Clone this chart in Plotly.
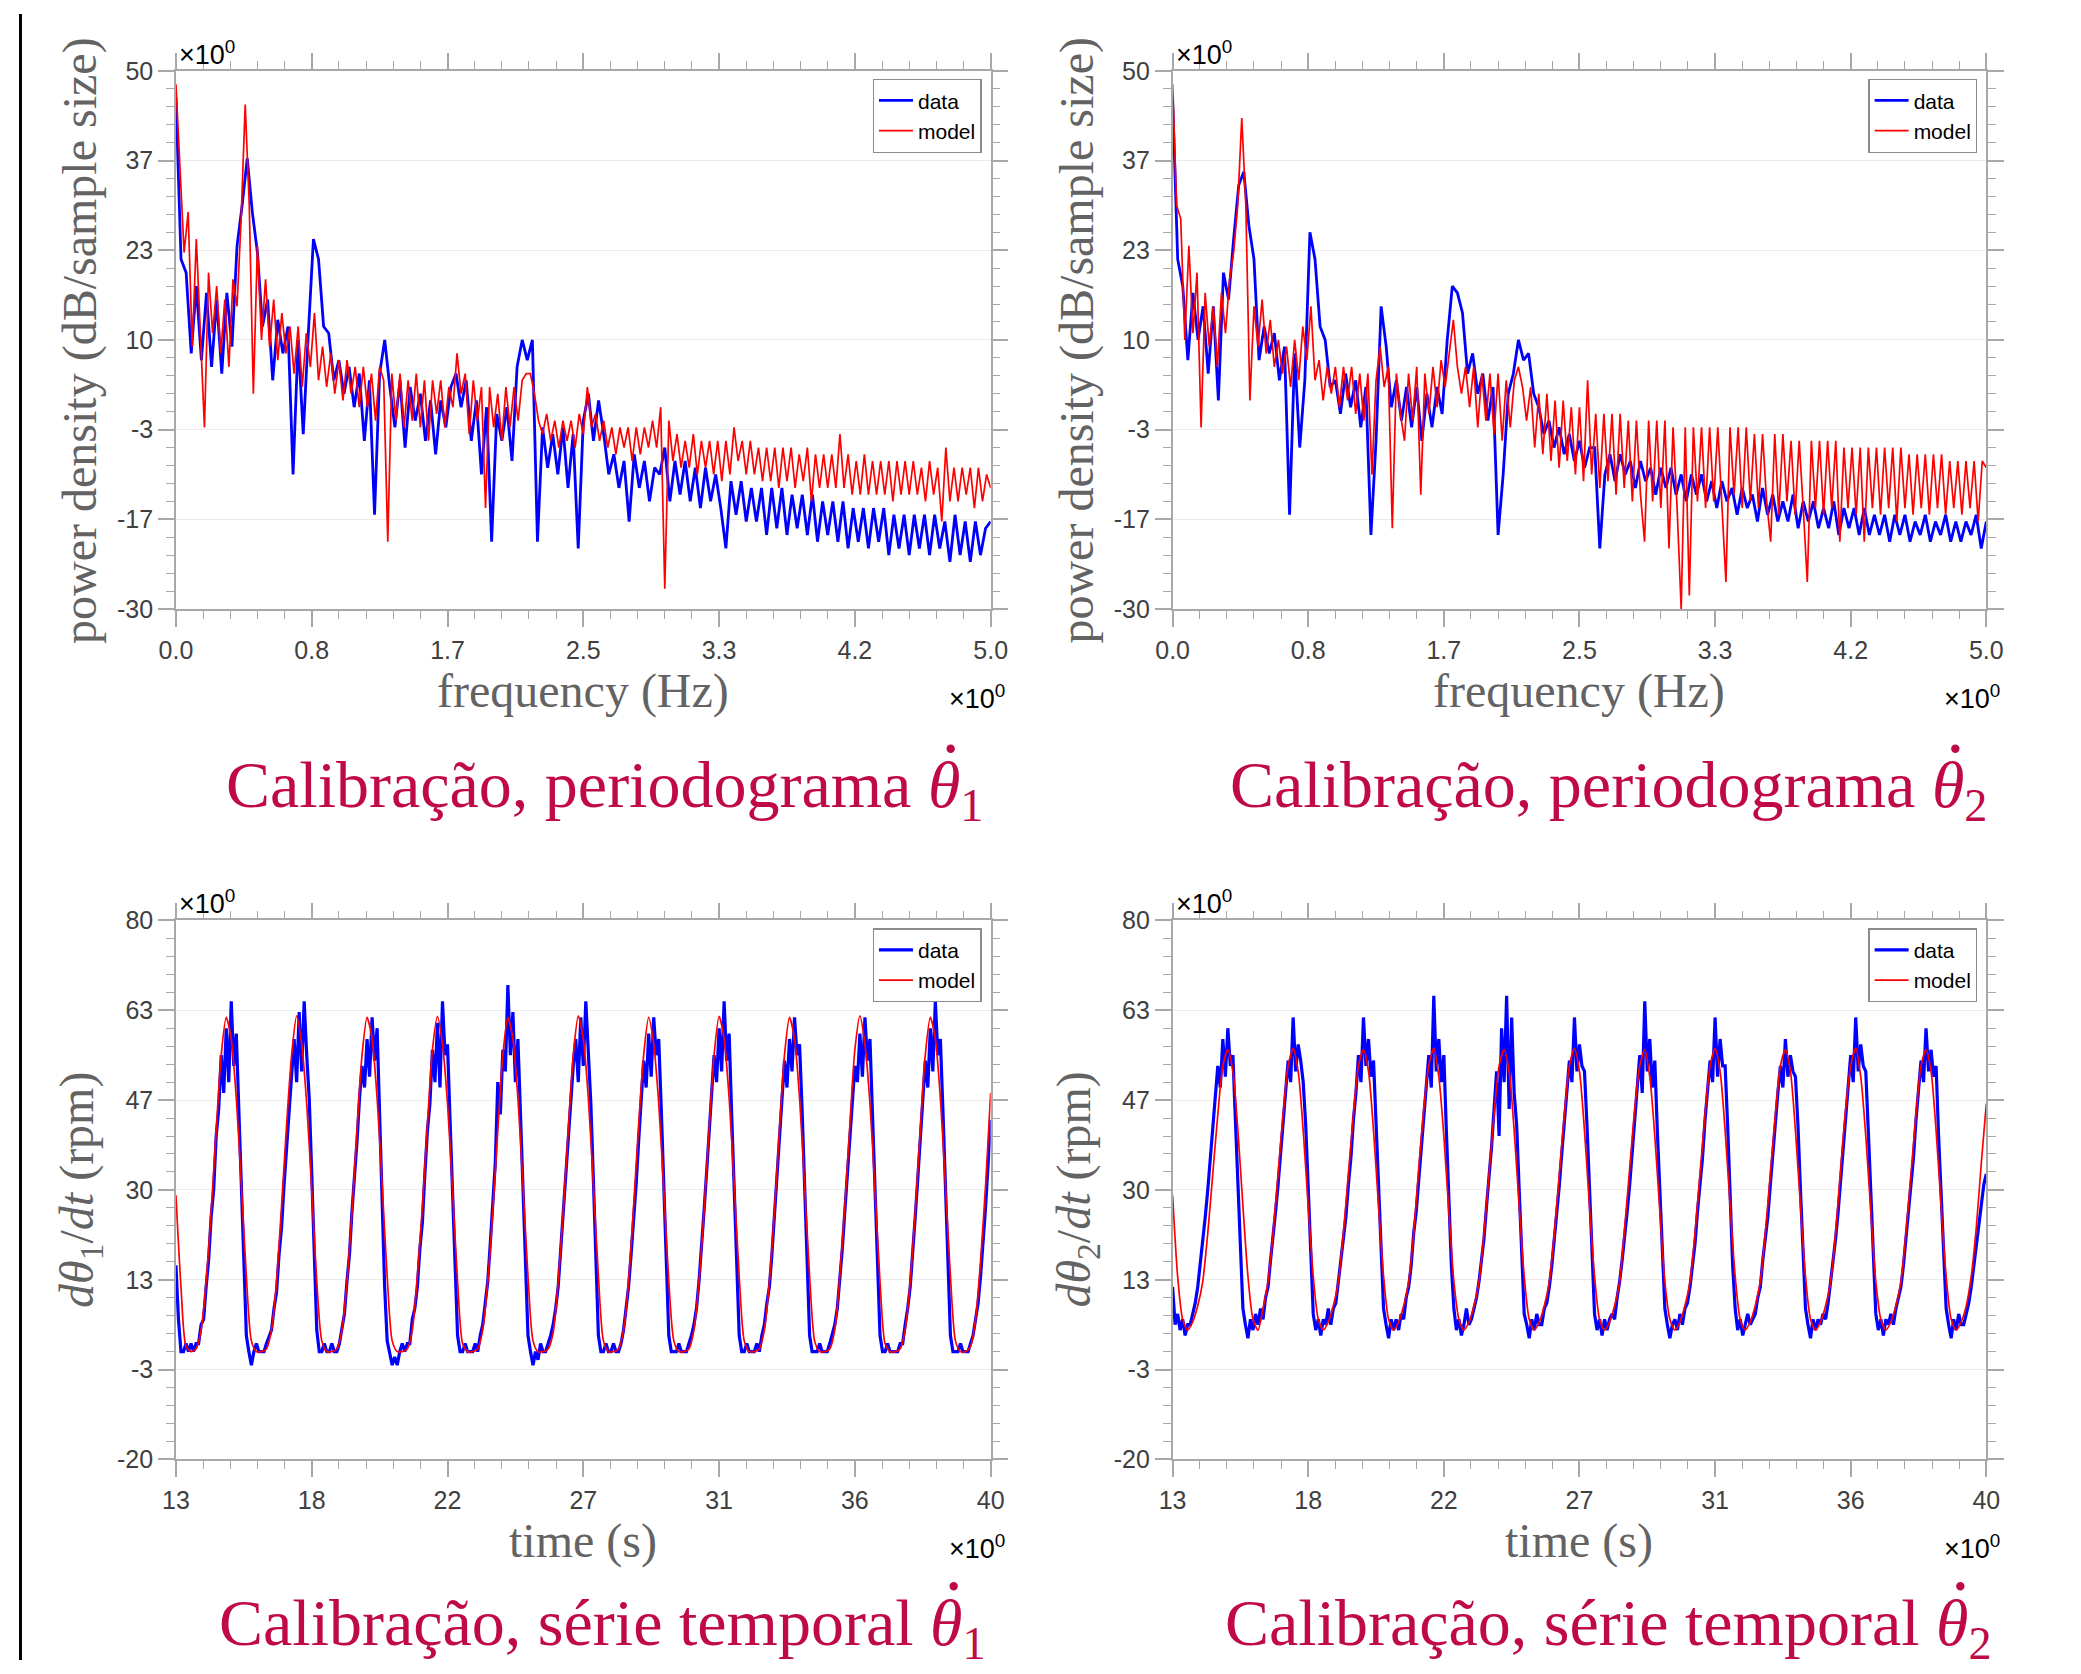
import numpy as np
import plotly.graph_objects as go

# ---------------- data ----------------
freq_ticktext = ["0.0", "0.8", "1.7", "2.5", "3.3", "4.2", "5.0"]
psd_ticktext = ["-30", "-17", "-3", "10", "23", "37", "50"]
time_ticktext = ["13", "18", "22", "27", "31", "36", "40"]
rpm_ticktext = ["-20", "-3", "13", "30", "47", "63", "80"]

freq_range = [0.0, 5.0]
psd_range = [-30.0, 50.0]
time_range = [13.0, 40.0]
rpm_range = [-20.0, 80.0]

# periodogram theta1 - data (blue), 0..5 Hz evenly sampled
psd1_data = [
    46, 22, 20, 8, 18, 7, 17, 6, 16, 5,
    17, 9, 24, 30, 37, 29, 23, 12, 16, 4,
    13, 8, 12, -10, 10, -4, 11, 25, 22, 12,
    11, 4, 7, 2, 6, 0, 5, -5, 4, -16,
    5, 10, 3, -3, 4, -6, 3, -2, 2, -5,
    1, -7, 1, -3, 3, 5, 0, 4, -5, 1,
    -10, 0, -20, -1, -5, 0, -8, 6, 10, 7,
    10, -20, -3, -9, -4, -10, -3, -12, -4, -21,
    -2, 2, -5, 1, -4, -10, -7, -12, -8, -17,
    -7, -12, -8, -14, -9, -10, -6, -14, -8, -13,
    -8, -14, -9, -15, -9, -14, -10, -15, -21, -11,
    -16, -11, -17, -12, -17, -12, -19, -12, -18, -12,
    -19, -13, -18, -13, -19, -13, -20, -14, -19, -14,
    -20, -14, -21, -15, -20, -15, -21, -15, -20, -15,
    -22, -16, -21, -16, -22, -16, -21, -16, -22, -16,
    -21, -17, -23, -16, -22, -17, -23, -17, -22, -18,
    -17]

# periodogram theta1 - model (red)
psd1_model = [
    48, 36, 23, 29, 9, 25, 11, -3, 20, 11,
    18, 8, 16, 6, 19, 15, 28, 45, 30, 2,
    24, 10, 19, 9, 16, 7, 14, 8, 12, 5,
    12, 3, 11, 6, 14, 4, 9, 3, 8, 2,
    7, 1, 7, 2, 6, 0, 6, 0, 5, -2,
    6, 4, -20, 5, -2, 5, -3, 4, -2, 5,
    -3, 4, -5, 4, -1, 4, -3, 3, 0, 8,
    2, 5, -4, 4, -2, 3, -15, 3, -3, 2,
    -5, 3, -3, 3, -2, 4, 5, 5, 2, -2,
    -4, -1, -5, -2, -6, -2, -5, -2, -6, -1,
    -4, 3, -3, -1, -5, -2, -6, -3, -7, -3,
    -6, -3, -8, -3, -7, -3, -6, -2, -6, 0,
    -27, -2, -8, -4, -9, -5, -9, -4, -10, -5,
    -9, -5, -10, -5, -11, -5, -10, -3, -8, -5,
    -10, -5, -10, -6, -11, -6, -11, -6, -12, -6,
    -11, -6, -12, -7, -11, -6, -14, -7, -12, -7,
    -12, -7, -12, -4, -12, -7, -13, -8, -13, -7,
    -13, -8, -13, -8, -13, -8, -14, -8, -13, -8,
    -13, -8, -13, -9, -14, -8, -13, -9, -17, -6,
    -14, -9, -14, -9, -13, -9, -15, -9, -14, -10,
    -12]

# periodogram theta2 - data (blue)
psd2_data = [
    46, 22, 18, 7, 17, 10, 15, 5, 15, 1,
    20, 16, 25, 33, 35, 27, 22, 7, 12, 8,
    11, 4, 9, -16, 8, -6, 4, 26, 22, 12,
    10, 3, 4, -1, 5, 0, 4, -3, 3, -19,
    -5, 15, 9, 0, 4, -2, 3, -3, 3, -5,
    2, -3, 3, -1, 10, 18, 17, 14, 5, 8,
    2, 5, -2, 3, -19, -10, 2, 5, 10, 7,
    8, 2, 0, -4, -2, -6, -3, -7, -4, -8,
    -5, -9, -6, -6, -21, -10, -7, -11, -7, -10,
    -8, -12, -8, -11, -9, -13, -9, -12, -9, -13,
    -10, -14, -10, -13, -10, -14, -11, -15, -11, -14,
    -12, -16, -12, -15, -13, -17, -12, -16, -13, -17,
    -14, -17, -13, -18, -14, -17, -14, -18, -15, -18,
    -14, -19, -15, -18, -15, -19, -15, -19, -16, -19,
    -16, -20, -16, -19, -16, -20, -17, -19, -16, -20,
    -17, -19, -16, -20, -17, -20, -17, -19, -16, -21,
    -17]

# periodogram theta2 - model (red)
psd2_model = [
    48, 30, 28, 10, 24, 11, 20, -3, 17, 9,
    15, 6, 17, 11, 19, 23, 30, 43, 30, 1,
    15, 9, 16, 8, 13, 6, 10, 5, 9, 3,
    10, 4, 12, 7, 15, 4, 7, 1, 6, 2,
    6, 0, 6, 1, 6, -1, 5, -2, 5, -10,
    4, 9, 3, 6, -18, 5, -1, -5, 5, -2,
    6, -13, 5, -1, 6, 0, 7, 3, 8, 13,
    6, 2, 6, 0, 6, -3, 5, -2, 5, -4,
    5, -5, 4, -3, 4, 6, 3, -2, 3, -6,
    2, -7, 2, -8, 1, -9, 1, -8, 0, -10,
    0, -11, 4, -10, -1, -12, -1, -11, -1, -13,
    -1, -12, -2, -14, -2, -13, -20, -2, -14, -2,
    -15, -2, -21, -3, -15, -30, -3, -28, -3, -14,
    -3, -15, -3, -14, -3, -15, -26, -3, -13, -3,
    -15, -3, -14, -4, -15, -4, -14, -20, -4, -16,
    -4, -14, -5, -16, -5, -15, -26, -5, -15, -5,
    -16, -5, -15, -5, -20, -6, -15, -6, -16, -6,
    -20, -6, -15, -6, -16, -6, -15, -6, -17, -6,
    -15, -7, -16, -7, -15, -7, -16, -7, -15, -7,
    -16, -8, -15, -8, -16, -8, -15, -8, -17, -8,
    -9]

# time series theta1 - data (blue), 13..40 s evenly sampled
ts1_data = [
    16, 6, 0, 0, 1.5, 0, 1.5,
    0, 1.5, 1.5, 5, 6, 12, 17, 25, 30, 40, 45, 55, 48, 60, 50, 65, 53, 59, 45, 31, 15, 3, 0, -2.5, 0, 1.5, 0, 0,
    0, 1.5, 3, 4, 8, 11, 18, 23, 31, 38, 46, 52, 58, 50, 63, 52, 65, 55, 47, 33, 17, 4, 0, 0, 1.5, 0, 0, 1.5,
    0, 0, 1.5, 4, 7, 13, 18, 26, 32, 39, 47, 53, 49, 58, 51, 62, 54, 60, 44, 28, 12, 2, 0, -2.5, -1, -2.5, 0, 1.5,
    0, 1.5, 1.5, 6, 8, 12, 19, 24, 33, 41, 46, 56, 50, 61, 49, 65, 55, 57, 43, 30, 14, 3, 0, 0, 1.5, 0, 0, 0,
    1.5, 0, 3, 5, 9, 13, 20, 28, 35, 50, 44, 56, 52, 68, 55, 63, 50, 58, 45, 31, 16, 3, 0, -2.5, 0, -1.5, 1.5, 0,
    0, 1.5, 3, 5, 8, 12, 19, 25, 33, 40, 47, 53, 58, 50, 62, 53, 65, 56, 46, 32, 15, 3, 0, 0, 1.5, 0, 0, 1.5,
    0, 0, 1.5, 4, 8, 12, 18, 24, 31, 39, 46, 54, 49, 59, 51, 62, 55, 58, 45, 31, 15, 3, 0, 0, 0, 1.5, 0, 0,
    0, 1.5, 3, 5, 8, 13, 19, 26, 33, 41, 47, 55, 50, 60, 52, 65, 54, 59, 44, 30, 14, 3, 0, 0, 1.5, 0, 0, 0,
    1.5, 0, 3, 5, 9, 12, 18, 25, 32, 40, 46, 54, 49, 58, 52, 62, 55, 57, 45, 30, 15, 3, 0, 0, 0, 1.5, 0, 0,
    0, 1.5, 3, 5, 8, 13, 19, 26, 33, 40, 47, 53, 50, 59, 51, 62, 54, 58, 44, 30, 14, 3, 0, 0, 1.5, 0, 0, 0,
    0, 1.5, 1.5, 5, 8, 12, 18, 25, 32, 40, 46, 54, 49, 60, 52, 65, 55, 58, 45, 31, 15, 3, 0, 0, 0, 1.5, 0, 0,
    0, 1.5, 3, 6, 9, 14, 20, 27, 35, 43]

# time series theta1 - model (red)
ts1_model = [
    29, 12, 1,
    0, 0.5, 4, 13, 26, 41, 55, 62, 58, 47, 31, 14, 2, 0,
    0, 0.5, 4, 13, 27, 42, 55, 62.3, 57, 46, 30, 13, 2, 0,
    0, 0.5, 4, 13, 26, 41, 55, 62, 58, 47, 31, 14, 2, 0,
    0, 0.5, 4, 14, 27, 42, 56, 62.2, 57, 46, 30, 13, 1.5, 0,
    0, 0.5, 4, 13, 26, 41, 55, 62, 58, 47, 31, 14, 2, 0,
    0, 0.5, 3.5, 13, 26, 41, 55, 62.3, 58, 47, 31, 14, 2, 0,
    0, 0.5, 4, 13, 27, 42, 55, 62, 57, 46, 30, 13, 2, 0,
    0, 0.5, 4, 13, 26, 41, 55, 62.2, 58, 47, 31, 14, 2, 0,
    0, 0.5, 4, 13, 26, 41, 55, 62, 58, 47, 31, 14, 2, 0,
    0, 0.5, 4, 14, 27, 42, 56, 62.3, 57, 46, 30, 13, 1.5, 0,
    0, 0.5, 4, 13, 26, 41, 55, 62, 58, 47, 31, 14, 2, 0,
    0, 1, 6, 17, 31, 48]

# time series theta2 - data (blue)
ts2_data = [
    12, 5, 7, 4, 6, 3, 5,
    5, 7, 9, 12, 16, 20, 25, 30, 36, 42, 48, 53, 49, 58, 51, 60, 53, 55, 43, 30, 17, 8, 5, 2.5, 6, 4, 7, 5,
    8, 6, 10, 12, 17, 21, 26, 31, 37, 43, 49, 54, 50, 62, 52, 57, 54, 50, 42, 29, 16, 7, 4, 6, 3, 6, 5, 8,
    5, 8, 9, 13, 16, 21, 25, 31, 36, 43, 48, 55, 50, 62, 53, 58, 51, 54, 42, 31, 17, 8, 5, 2.5, 6, 4, 6, 4,
    7, 6, 10, 12, 16, 22, 26, 32, 37, 44, 50, 55, 49, 66, 52, 58, 50, 55, 41, 29, 16, 8, 4, 6, 3, 5, 8, 5,
    6, 8, 10, 13, 17, 21, 27, 32, 38, 45, 52, 40, 60, 50, 66, 45, 62, 48, 42, 30, 17, 7, 5, 2.5, 6, 4, 7, 5,
    5, 8, 9, 12, 16, 21, 25, 31, 37, 43, 49, 54, 50, 62, 52, 57, 53, 52, 42, 29, 16, 7, 4, 6, 3, 6, 4, 6,
    7, 6, 10, 13, 17, 21, 26, 31, 37, 44, 50, 55, 48, 65, 52, 58, 49, 54, 41, 30, 17, 8, 5, 2.5, 5, 6, 4, 7,
    5, 8, 9, 12, 16, 20, 26, 31, 36, 43, 49, 54, 50, 62, 51, 58, 53, 53, 42, 29, 16, 8, 4, 6, 3, 5, 7, 5,
    6, 7, 10, 12, 17, 21, 25, 31, 37, 43, 48, 53, 49, 58, 51, 55, 52, 51, 42, 30, 17, 8, 5, 2.5, 6, 4, 6, 5,
    7, 6, 9, 13, 16, 21, 26, 32, 37, 44, 49, 55, 50, 62, 52, 57, 53, 52, 41, 29, 16, 7, 4, 6, 3, 6, 5, 7,
    5, 8, 10, 12, 16, 21, 25, 31, 36, 43, 48, 54, 50, 60, 52, 56, 51, 53, 40, 29, 16, 8, 5, 2.5, 6, 4, 7, 5,
    5, 7, 9, 12, 16, 20, 24, 28, 31, 33]

# time series theta2 - model (red)
ts2_model = [
    29, 14, 6, 4,
    5.5, 8.5, 13, 22, 33, 44, 53, 56, 52, 41, 27, 14, 6, 4,
    8, 13, 22, 33, 44, 53, 56.2, 52, 41, 27, 14, 6, 4,
    5.5, 8.5, 13, 22, 33, 44, 53, 56, 52, 41, 27, 14, 6, 4,
    5.5, 8.5, 13, 22, 34, 45, 53, 56.3, 51, 40, 26, 13, 6, 4,
    5.5, 8.5, 13, 22, 33, 44, 53, 56, 52, 41, 27, 14, 6, 4,
    5.5, 8.5, 13, 22, 33, 44, 53, 56.2, 52, 41, 27, 14, 6, 4,
    5.5, 8.5, 13, 23, 34, 45, 53, 56, 51, 40, 26, 13, 6, 4,
    5.5, 8.5, 13, 22, 33, 44, 53, 56.2, 52, 41, 27, 14, 6, 4,
    5.5, 8.5, 13, 22, 33, 44, 53, 56, 52, 41, 27, 14, 6, 4,
    5.5, 8.5, 13, 22, 34, 45, 53, 56.3, 51, 40, 26, 13, 6, 4,
    5.5, 8.5, 13, 22, 33, 44, 53, 56, 52, 41, 27, 14, 6, 4,
    5.5, 8.5, 14, 23, 35, 46]

panel_titles = ["Calibração, periodograma <i>θ</i><sub>1</sub>",
                "Calibração, periodograma <i>θ</i><sub>2</sub>",
                "Calibração, série temporal <i>θ</i><sub>1</sub>",
                "Calibração, série temporal <i>θ</i><sub>2</sub>"]
x_titles = ["frequency (Hz)", "frequency (Hz)", "time (s)", "time (s)"]
y_titles = ["power density (dB/sample size)", "power density (dB/sample size)",
            "<i>dθ</i><sub>1</sub>/<i>dt</i> (rpm)", "<i>dθ</i><sub>2</sub>/<i>dt</i> (rpm)"]

# sample grids (evenly spaced samples over each axis span)
f_data = np.linspace(freq_range[0], freq_range[1], len(psd1_data))
f_model = np.linspace(freq_range[0], freq_range[1], len(psd1_model))
t_data = np.linspace(time_range[0], time_range[1], len(ts1_data))
t_model = np.linspace(time_range[0], time_range[1], len(ts1_model))

# ---------------- layout geometry (reference pixels) ----------------
W, H = 2081, 1674
boxes = [(176, 991, 69, 608), (1173, 1987, 69, 608),
         (176, 991, 920, 1460), (1173, 1987, 920, 1460)]
title_right = [985, 1990, 988, 1995]
title_drop = [181, 181, 168, 168]   # caption centre below each panel

# the photographed page shows the figure slightly inset and reduced;
# place elements so that they land on the reference positions
OX, OY, SX, SY = 17.0, 12.0, 0.984, 0.985


def px(x):
    return ((x - OX) / SX) / W


def py(y):
    return 1 - ((y - OY) / SY) / H


BLUE = "#0000ff"
RED = "#ff0000"
AXC = "#a8a8a8"
TICKFONT = dict(family="Liberation Sans, Arial, sans-serif", size=25, color="#404040")
SERIF = "Liberation Serif, Times New Roman, serif"
CRIMSON = "#c00a48"
TITLEGRAY = "#636363"

fig = go.Figure()

series = [
    (f_data, psd1_data, f_model, psd1_model, "linear"),
    (f_data, psd2_data, f_model, psd2_model, "linear"),
    (t_data, ts1_data, t_model, ts1_model, "spline"),
    (t_data, ts2_data, t_model, ts2_model, "spline"),
]

for i, (xd, yd, xm, ym, mshape) in enumerate(series):
    n = i + 1
    xa = "x" if n == 1 else f"x{n}"
    ya = "y" if n == 1 else f"y{n}"
    lg = "legend" if n == 1 else f"legend{n}"
    fig.add_trace(go.Scatter(x=xd, y=yd, mode="lines", name="data",
                             line=dict(color=BLUE, width=2.8 if i < 2 else 3.2),
                             xaxis=xa, yaxis=ya, legend=lg, hoverinfo="skip"))
    fig.add_trace(go.Scatter(x=xm, y=ym, mode="lines", name="model",
                             line=dict(color=RED, width=1.7, shape=mshape, smoothing=0.7),
                             xaxis=xa, yaxis=ya, legend=lg, hoverinfo="skip"))

layout = dict(width=W, height=H, autosize=False,
              margin=dict(l=0, r=0, t=0, b=0),
              paper_bgcolor="white", plot_bgcolor="white",
              showlegend=True)

annotations = []
shapes = []

for i, (x0, x1, y0, y1) in enumerate(boxes):
    n = i + 1
    sfx = "" if n == 1 else str(n)
    is_freq = i < 2
    xr = freq_range if is_freq else time_range
    yr = psd_range if is_freq else rpm_range
    xtt = freq_ticktext if is_freq else time_ticktext
    ytt = psd_ticktext if is_freq else rpm_ticktext
    xtv = np.linspace(xr[0], xr[1], len(xtt))
    ytv = np.linspace(yr[0], yr[1], len(ytt))
    xstep = (xr[1] - xr[0]) / (len(xtt) - 1) / 5
    ystep = (yr[1] - yr[0]) / (len(ytt) - 1) / 5
    common = dict(showline=True, linecolor=AXC, linewidth=1.5, mirror="ticks",
                  ticks="outside", ticklen=16, tickwidth=1.5, tickcolor=AXC,
                  tickfont=TICKFONT, zeroline=False, fixedrange=True)
    layout["xaxis" + sfx] = dict(
        common, domain=[px(x0), px(x1)], range=xr, anchor="y" + sfx,
        tickmode="array", tickvals=xtv, ticktext=xtt, showgrid=False,
        ticklabelstandoff=2,
        minor=dict(ticks="outside", ticklen=8, tickwidth=1.3, tickcolor=AXC,
                   tickmode="linear", tick0=xr[0], dtick=xstep, showgrid=False))
    layout["yaxis" + sfx] = dict(
        common, domain=[py(y1), py(y0)], range=yr, anchor="x" + sfx,
        tickmode="array", tickvals=ytv, ticktext=ytt, showgrid=True,
        gridcolor="#ebebeb", gridwidth=1, ticklabelstandoff=0,
        minor=dict(ticks="outside", ticklen=8, tickwidth=1.3, tickcolor=AXC,
                   tickmode="linear", tick0=yr[0], dtick=ystep, showgrid=False))
    layout["legend" + sfx] = dict(
        x=px(x1 - 9), xanchor="right", y=py(y0 + 8), yanchor="top",
        bgcolor="white", bordercolor="#8c8c8c", borderwidth=1.3,
        font=dict(family="Liberation Sans, Arial, sans-serif", size=21, color="black"),
        tracegroupgap=0, itemwidth=34)
    # exponent labels
    annotations.append(dict(text="×10<sup>0</sup>", x=px(x0 + 1), y=py(y0 + 1),
                            xref="paper", yref="paper", xanchor="left", yanchor="bottom",
                            showarrow=False, font=dict(family="Liberation Sans, Arial", size=27, color="black")))
    annotations.append(dict(text="×10<sup>0</sup>", x=px(x1 + 16), y=py(y1 + 88),
                            xref="paper", yref="paper", xanchor="right", yanchor="middle",
                            showarrow=False, font=dict(family="Liberation Sans, Arial", size=27, color="black")))
    # axis titles
    annotations.append(dict(text=x_titles[i], x=px((x0 + x1) / 2), y=py(y1 + 82),
                            xref="paper", yref="paper", xanchor="center", yanchor="middle",
                            showarrow=False, font=dict(family=SERIF, size=48, color=TITLEGRAY)))
    annotations.append(dict(text=y_titles[i], x=px(x0 - 96), y=py((y0 + y1) / 2),
                            xref="paper", yref="paper", xanchor="center", yanchor="middle",
                            textangle=-90, showarrow=False,
                            font=dict(family=SERIF, size=48, color=TITLEGRAY)))
    # panel captions
    cy = y1 + title_drop[i]
    annotations.append(dict(text=panel_titles[i], x=px(title_right[i]), y=py(cy),
                            xref="paper", yref="paper", xanchor="right", yanchor="middle",
                            showarrow=False, font=dict(family=SERIF, size=66, color=CRIMSON)))
    # the time-derivative dot over theta
    dx, dy, r = title_right[i] - 34, cy - 41, 4.2
    shapes.append(dict(type="circle", xref="paper", yref="paper",
                       x0=px(dx - r), x1=px(dx + r), y0=py(dy + r), y1=py(dy - r),
                       fillcolor=CRIMSON, line=dict(width=0)))

shapes.append(dict(type="line", xref="paper", yref="paper", x0=px(20.5), x1=px(20.5),
                   y0=0, y1=1, line=dict(color="black", width=3)))

layout["annotations"] = annotations
layout["shapes"] = shapes
fig.update_layout(**layout)

fig.write_html("out.html", config={"displayModeBar": False},
               post_script="document.body.style.margin='0';document.body.style.overflow='hidden';")
